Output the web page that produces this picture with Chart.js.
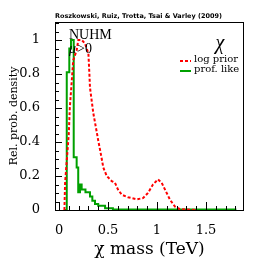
<!DOCTYPE html>
<html>
<head>
<meta charset="utf-8">
<script src="https://cdn.jsdelivr.net/npm/chart.js@4.4.1/dist/chart.umd.min.js"></script>
<style>
  html, body { margin: 0; padding: 0; background: #fff; }
  #wrap { width: 258px; height: 258px; }
</style>
</head>
<body>
<div id="wrap"><canvas id="massChart"></canvas></div>
<script>
// profile likelihood histogram: left bin edges and heights
const profMass = [0.06, 0.079, 0.105, 0.122, 0.15, 0.18, 0.196, 0.214, 0.231, 0.27, 0.316, 0.34, 0.367, 0.40, 0.47, 0.55, 1.80];
const profLike = [0, 0.81, 0.95, 1.0, 0.31, 0.25, 0.105, 0.15, 0.12, 0.105, 0.08, 0.055, 0.035, 0.025, 0.01, 0.003, 0];

// log prior posterior
const priorMass = [0.055, 0.062, 0.10, 0.11, 0.13, 0.145, 0.18, 0.197, 0.232, 0.265, 0.30, 0.31, 0.316, 0.35, 0.40, 0.43, 0.452, 0.487, 0.538, 0.571, 0.602, 0.64, 0.704, 0.793, 0.857, 0.908, 0.959, 1.01, 1.048, 1.082, 1.133, 1.184, 1.235, 1.40];
const logPrior  = [0, 0.16, 0.45, 0.6, 0.76, 0.88, 0.94, 1.0, 1.0, 0.98, 0.92, 0.8, 0.72, 0.57, 0.41, 0.32, 0.25, 0.2, 0.17, 0.16, 0.12, 0.09, 0.075, 0.063, 0.07, 0.1, 0.15, 0.18, 0.16, 0.12, 0.06, 0.02, 0.005, 0];

const xTicks = [0, 0.5, 1, 1.5];
const yTicks = [0, 0.2, 0.4, 0.6, 0.8, 1];

const serif = 'DejaVu Serif';
const times = 'Liberation Serif';

function pts(xs, ys) {
  return xs.map((x, i) => ({ x: x, y: ys[i] }));
}

// frame, inward ticks and the labels written inside the plot
const frame = {
  id: 'frame',
  afterDraw(chart) {
    const c = chart.ctx, a = chart.chartArea;
    const xs = chart.scales.x, ys = chart.scales.y;
    c.save();
    c.strokeStyle = '#000';
    c.lineWidth = 1;
    c.strokeRect(a.left + 0.5, a.top + 0.5, a.right - a.left - 1, a.bottom - a.top);
    c.beginPath();
    for (let i = 0; i <= 22; i++) {
      const v = i * 0.05;
      const py = Math.round(ys.getPixelForValue(v)) + 0.5;
      const len = i % 4 === 0 ? 7 : 4;
      c.moveTo(a.left, py); c.lineTo(a.left + len, py);
    }
    for (let i = 0; i <= 18; i++) {
      const v = i * 0.1;
      const px = Math.round(xs.getPixelForValue(v)) + 0.5;
      const len = i % 5 === 0 ? 8 : 4;
      c.moveTo(px, a.bottom); c.lineTo(px, a.bottom - len);
    }
    c.stroke();

    c.fillStyle = '#000';
    c.textBaseline = 'alphabetic';
    // top caption
    const cap = 'Roszkowski, Ruiz, Trotta, Tsai & Varley (2009)';
    c.font = 'bold 7px "DejaVu Sans"';
    const w7 = c.measureText(cap).width;
    c.font = 'bold ' + (7 * 167 / w7).toFixed(2) + 'px "DejaVu Sans"';
    c.textAlign = 'left';
    c.fillText(cap, 55, 18);

    c.font = '14px "' + times + '"';
    c.fillText('NUHM', 69, 39);
    c.font = 'italic 14px "' + times + '"';
    c.fillText('\u03bc', 69, 53);
    const mw = c.measureText('\u03bc').width;
    c.font = '14px "' + times + '"';
    c.fillText('>0', 69 + mw + 1, 53);

    // legend
    c.font = 'italic 20px "' + times + '"';
    c.textAlign = 'center';
    c.fillText('\u03c7', 220, 49);
    c.textAlign = 'left';
    c.font = '10px "' + serif + '"';
    c.fillText('log prior', 194, 62);
    c.fillText('prof. like', 194, 72);
    c.lineWidth = 2;
    c.strokeStyle = '#ff0000';
    c.setLineDash([3, 2]);
    c.beginPath(); c.moveTo(180, 61); c.lineTo(191, 61); c.stroke();
    c.setLineDash([]);
    c.strokeStyle = '#00a000';
    c.beginPath(); c.moveTo(180, 71); c.lineTo(191, 71); c.stroke();
    c.restore();
  }
};

new Chart(document.getElementById('massChart'), {
  type: 'line',
  data: {
    datasets: [
      {
        label: 'log prior',
        data: pts(priorMass, logPrior),
        borderColor: '#ff0000',
        borderWidth: 2,
        borderDash: [3, 2],
        pointRadius: 0,
        tension: 0,
        fill: false
      },
      {
        label: 'prof. like',
        data: pts(profMass, profLike),
        borderColor: '#00a000',
        borderWidth: 2,
        stepped: 'before',
        pointRadius: 0,
        fill: false
      }
    ]
  },
  options: {
    responsive: true,
    maintainAspectRatio: false,
    animation: false,
    layout: { padding: { top: 22, right: 14, left: 0, bottom: 0 } },
    plugins: { legend: { display: false }, tooltip: { enabled: false } },
    scales: {
      x: {
        type: 'linear',
        min: -0.041,
        max: 1.888,
        grid: { display: false },
        border: { display: false },
        afterBuildTicks: s => { s.ticks = xTicks.map(v => ({ value: v })); },
        afterFit: s => { s.height = 48; },
        ticks: {
          padding: 5,
          color: '#000',
          font: { family: serif, size: 13 },
          callback: v => String(v)
        },
        title: {
          display: true,
          text: '\u03c7 mass (TeV)',
          color: '#000',
          font: { family: serif, size: 17, lineHeight: 1 },
          padding: { top: 0, bottom: 0 }
        }
      },
      y: {
        min: 0,
        max: 1.106,
        grid: { display: false },
        border: { display: false },
        afterBuildTicks: s => { s.ticks = yTicks.map(v => ({ value: v })); },
        afterFit: s => { s.width = 55; },
        ticks: {
          padding: 7,
          color: '#000',
          font: { family: serif, size: 13 },
          callback: v => String(+v.toFixed(1))
        },
        title: {
          display: true,
          text: 'Rel. prob. density',
          color: '#000',
          font: { family: serif, size: 11 },
          padding: { top: 8, bottom: 0 }
        }
      }
    }
  },
  plugins: [frame]
});
</script>
</body>
</html>
